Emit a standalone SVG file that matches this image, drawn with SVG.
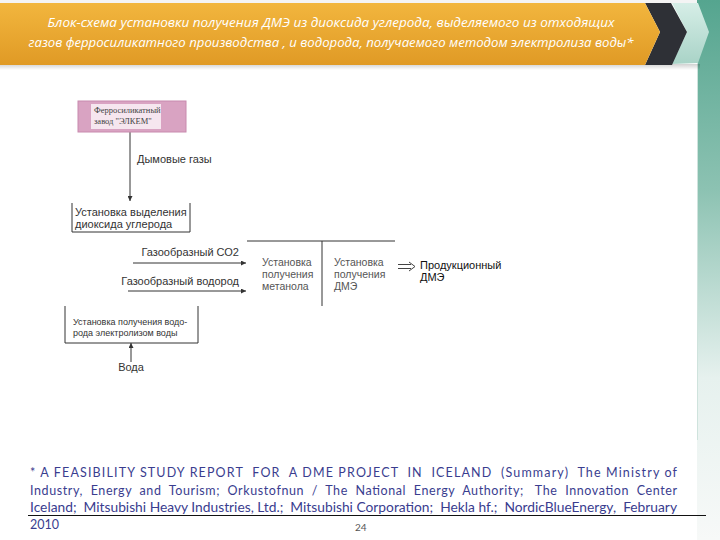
<svg xmlns="http://www.w3.org/2000/svg" width="720" height="540" viewBox="0 0 720 540">
<defs>
<linearGradient id="orange" x1="0" y1="0" x2="0" y2="1">
<stop offset="0" stop-color="#f2b63e"/>
<stop offset="1" stop-color="#e09a25"/>
</linearGradient>
<linearGradient id="lightteal" x1="0" y1="0" x2="0" y2="1">
<stop offset="0" stop-color="#d6eee7"/>
<stop offset="1" stop-color="#a9d3c7"/>
</linearGradient>
<linearGradient id="strip" x1="0" y1="0" x2="0" y2="1">
<stop offset="0" stop-color="#55a58f"/>
<stop offset="0.35" stop-color="#8cc2b2"/>
<stop offset="0.7" stop-color="#e6f1ee"/>
<stop offset="1" stop-color="#f7f9f8"/>
</linearGradient>
<linearGradient id="shadow" x1="0" y1="0" x2="0" y2="1">
<stop offset="0" stop-color="#000" stop-opacity="0.18"/>
<stop offset="1" stop-color="#000" stop-opacity="0"/>
</linearGradient>
<marker id="ah" viewBox="0 0 6 6" refX="6" refY="3" markerWidth="5" markerHeight="5" orient="auto" markerUnits="userSpaceOnUse">
<path d="M0,0 L6,3 L0,6 z" fill="#333"/>
</marker>
</defs>
<style>
.hdr{font-family:"Open Sans","Liberation Sans",sans-serif;font-style:italic;font-size:13px;fill:#fff}
.t{font-family:"Liberation Sans",Arial,sans-serif;font-size:11px;fill:#333}
.ts{font-family:"Liberation Sans",Arial,sans-serif;font-size:9px;fill:#333}
.tm{font-family:"Liberation Sans",Arial,sans-serif;font-size:10.5px;fill:#555}
.tp{font-family:"Liberation Sans",Arial,sans-serif;font-size:11px;fill:#111}
.ser{font-family:"Liberation Serif","Times New Roman",serif;font-size:8.5px;fill:#444}
.ln{stroke:#333;stroke-width:1;fill:none}
.foot{font-family:Lato,"Liberation Sans",sans-serif;font-size:12.5px;fill:#3a3d8f;white-space:pre}
</style>
<rect width="720" height="540" fill="#fff"/>
<g id="header">
<rect x="0" y="0" width="720" height="4" fill="#f4f4f4"/>
<rect x="697" y="0" width="23" height="540" fill="url(#strip)"/>
<line x1="697.5" y1="60" x2="697.5" y2="440" stroke="#cfe3dd" stroke-width="1"/>
<rect x="0" y="64" width="700" height="6" fill="url(#shadow)"/>
<polygon points="672,3 698,3 709,32 698,63 672,64 687,32" fill="url(#lightteal)"/>
<polygon points="645,3 671,3 687,32 672,65 645,65 660,32" fill="#2e3036"/>
<polygon points="0,3 645,3 660,32 645,65 0,65" fill="url(#orange)"/>
<text class="hdr" x="331" y="27" text-anchor="middle" textLength="567" lengthAdjust="spacingAndGlyphs">Блок-схема установки получения ДМЭ из диоксида углерода, выделяемого из отходящих</text>
<text class="hdr" x="331" y="47" text-anchor="middle" textLength="605" lengthAdjust="spacingAndGlyphs">газов ферросиликатного производства , и водорода, получаемого методом электролиза воды*</text>
</g>
<g id="connectors">
<line class="ln" x1="130" y1="132" x2="130" y2="201" marker-end="url(#ah)"/>
<line class="ln" x1="133" y1="263" x2="246" y2="263" marker-end="url(#ah)"/>
<line class="ln" x1="128" y1="291" x2="246" y2="291" marker-end="url(#ah)"/>
<line class="ln" x1="131" y1="362" x2="131" y2="343" marker-end="url(#ah)"/>
<path d="M398,264.5 H411 M398,268.5 H411" stroke="#444" stroke-width="1" fill="none"/>
<path d="M409,262 L415,266.5 L409,271" stroke="#444" stroke-width="1" fill="none"/>
</g>
<g id="elkem">
<rect x="78" y="101" width="108" height="31" fill="#d9a3c2" stroke="#c88aae" stroke-width="1"/>
<rect x="91" y="104" width="70" height="25" fill="#f6e6ef"/>
<text class="ser" x="94" y="113">Ферросиликатный</text>
<text class="ser" x="94" y="124">завод "ЭЛКЕМ"</text>
</g>
<g id="smoke">
<text class="t" x="137" y="163">Дымовые газы</text>
</g>
<g id="co2unit">
<path class="ln" d="M72,203 V232 H190 V203"/>
<text class="t" x="75" y="216">Установка выделения</text>
<text class="t" x="75" y="228">диоксида углерода</text>
</g>
<g id="co2gas">
<text class="t" x="239" y="256" text-anchor="end">Газообразный СО2</text>
</g>
<g id="h2gas">
<text class="t" x="239" y="285" text-anchor="end">Газообразный водород</text>
</g>
<g id="methanol">
<path class="ln" d="M247,241 H395 M322,241 V306"/>
<text class="tm" x="262" y="266">Установка</text>
<text class="tm" x="262" y="278">получения</text>
<text class="tm" x="262" y="290">метанола</text>
</g>
<g id="dmeunit">
<text class="tm" x="334" y="266">Установка</text>
<text class="tm" x="334" y="278">получения</text>
<text class="tm" x="334" y="290">ДМЭ</text>
</g>
<g id="product">
<text class="tp" x="420" y="269">Продукционный</text>
<text class="tp" x="420" y="281">ДМЭ</text>
</g>
<g id="h2unit">
<path class="ln" d="M65,306 V343 H198 V306"/>
<text class="ts" x="73" y="325">Установка получения водо-</text>
<text class="ts" x="73" y="336">рода электролизом воды</text>
</g>
<g id="water">
<text class="t" x="131" y="371" text-anchor="middle">Вода</text>
</g>
<g id="footnote">
<text class="foot" xml:space="preserve" x="30" y="477" textLength="647" lengthAdjust="spacing">* A FEASIBILITY STUDY REPORT  FOR  A DME PROJECT  IN  ICELAND  (Summary)  The Ministry of</text>
<text class="foot" xml:space="preserve" x="30" y="495" textLength="647" lengthAdjust="spacing">Industry,  Energy  and  Tourism;  Orkustofnun  /  The  National  Energy  Authority;   The  Innovation  Center</text>
<text class="foot" xml:space="preserve" x="30" y="512" textLength="647" lengthAdjust="spacingAndGlyphs">Iceland;  Mitsubishi Heavy Industries, Ltd.;  Mitsubishi Corporation;  Hekla hf.;  NordicBlueEnergy,  February</text>
<line x1="28" y1="515.5" x2="706" y2="515.5" stroke="#111" stroke-width="1"/>
<text class="foot" x="30" y="529">2010</text>
<text x="355" y="531" font-family="Lato,'Liberation Sans',sans-serif" font-size="10px" fill="#555">24</text>
</g>
</svg>
